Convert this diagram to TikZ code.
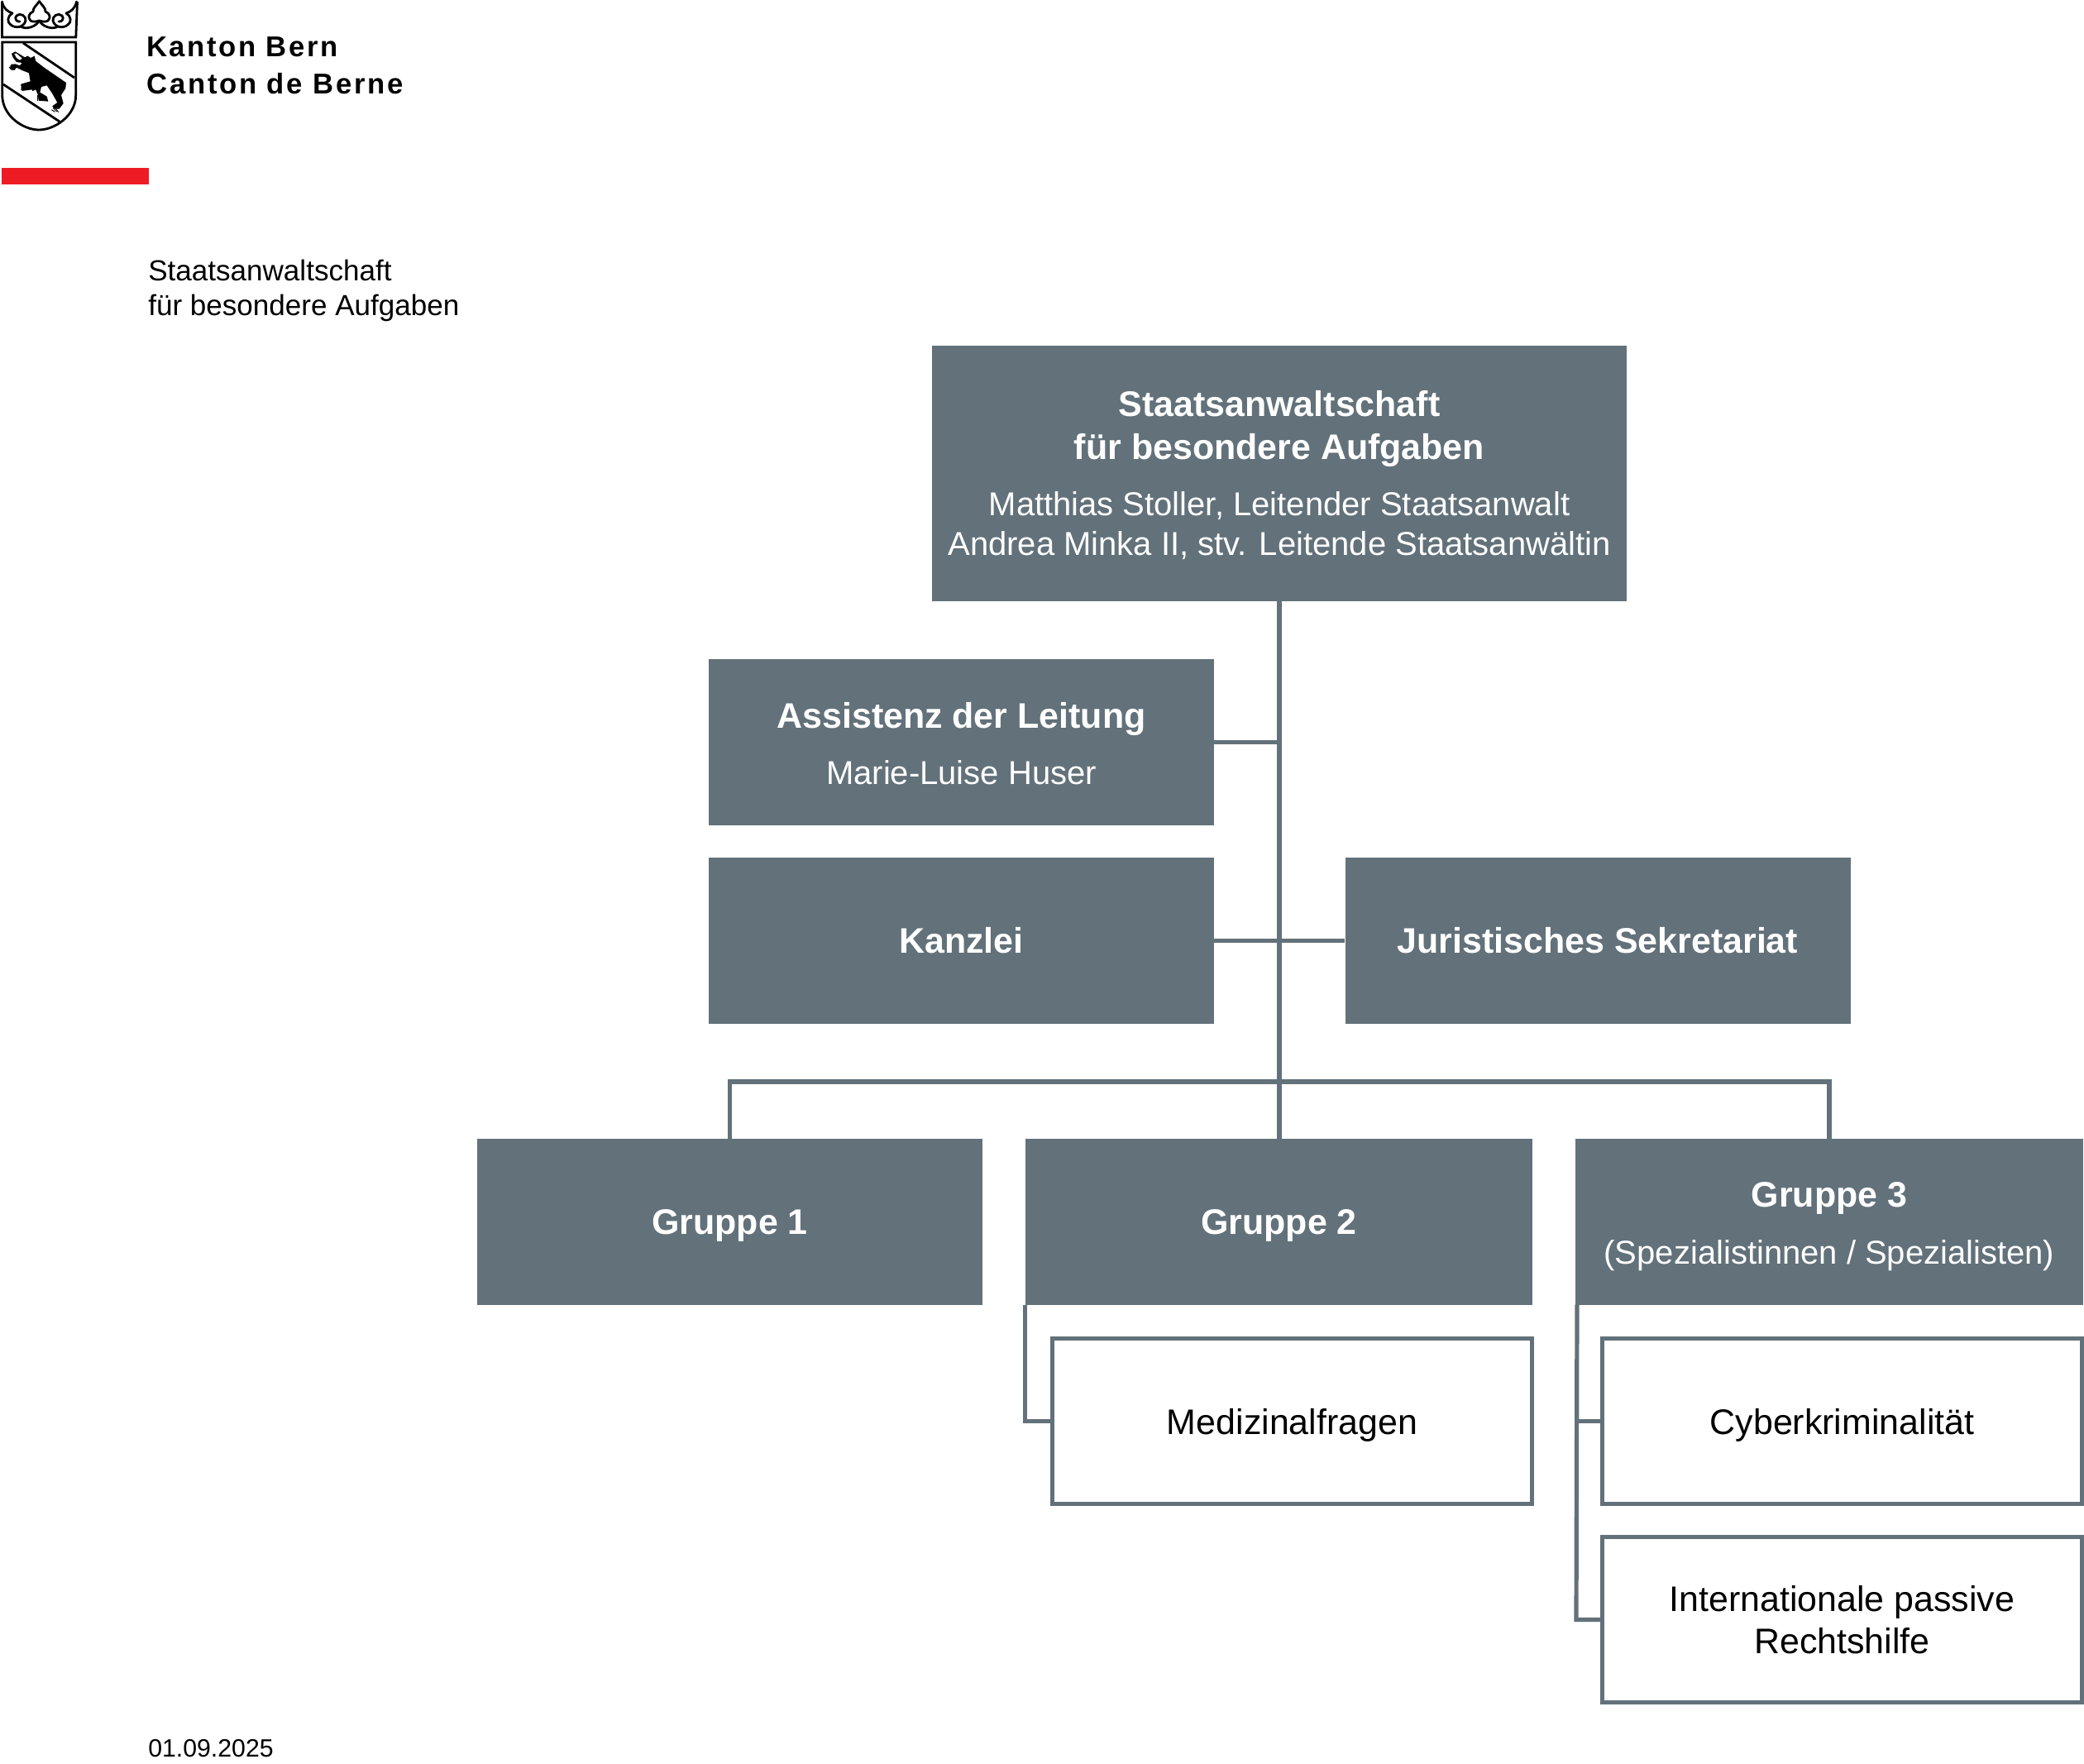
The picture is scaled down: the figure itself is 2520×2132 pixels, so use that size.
\documentclass[tikz,border=0pt]{standalone}
\usepackage{fontspec}
\setmainfont{Liberation Sans}
\definecolor{slate}{HTML}{62717A}
\definecolor{bernred}{HTML}{ED1C24}
\newcommand{\bigtxt}{\fontsize{32.2pt}{39pt}\selectfont}
\newcommand{\headb}[1]{\textbf{#1}}
\newcommand{\regt}[1]{{\fontsize{30pt}{39pt}\selectfont #1}}
\newcommand{\nz}[1]{\raisebox{0pt}[\height][0pt]{#1}}
\newcommand{\nq}[1]{\raisebox{0pt}[\height][1.5pt]{#1}}
\newcommand{\lift}{\rule{0pt}{25.2pt}}
\newcommand{\crownhalf}{
  \draw[crownline] (2.5,2) .. controls (4,10) and (9,14) .. (15,16)
    .. controls (9,19) and (8,27) .. (13,30)
    .. controls (19,35) and (29,33) .. (31,25)
    .. controls (32,19) and (24,15) .. (20,19)
    .. controls (17,22) and (20,27) .. (24,26);
  \draw[crownline] (25,32) .. controls (31,36) and (43,33) .. (47.5,25);
  \draw[crownline] (47.5,1.5) .. controls (44,7) and (40,9) .. (40,14)
    .. controls (35,16) and (33,21) .. (37,25)
    .. controls (40,27) and (44,26) .. (47.5,25);
}
\newcommand{\claws}[4]{\draw[black,line width=0.7pt] (#1,#2) -- ++(#3,#4);}
\tikzset{
  x=0.75pt,y=-0.75pt,
  size/.style 2 args={minimum width={(#1)*0.75pt},minimum height={(#2)*0.75pt}},
  solidbox/.style={rectangle,fill=slate,text=white,inner sep=0pt,align=center,font=\bigtxt},
  openbox/.style={rectangle,draw=slate,line width=3.75pt,fill=white,text=black,inner sep=0pt,align=center,font=\bigtxt},
  conn/.style={draw=slate,line width=3.9pt},
  trunk/.style={draw=slate,line width=4.2pt},
  crownline/.style={line width=2.1pt,line cap=round,line join=round,black},
  shieldline/.style={line width=2.1pt,black},
  plain/.style={inner sep=0pt,anchor=base west,align=left,text=black},
}
\begin{document}
\begin{tikzpicture}
\useasboundingbox (0,0) rectangle (2520,2132);
% logo
\draw[shieldline,line join=miter] (2.5,2) -- (2.5,45) -- (91.8,45) -- (93.5,2);
\crownhalf
\begin{scope}[shift={(95,0)},xscale=-1]\crownhalf\end{scope}
\draw[shieldline] (2.7,51) -- (91.7,51) -- (91.7,115) .. controls (91.7,140) and (66,157) .. (47,157) .. controls (28,157) and (2.7,140) .. (2.7,115) -- cycle;
\draw[shieldline] (28,52) -- (90,94);
\draw[shieldline] (4,102) -- (72,147);
\begin{scope}[scale=0.3333]
\fill[black] (42,195) -- (55,187) -- (90,208) -- (100,203) -- (112,210) -- (125,203) -- (130,222) -- (160,245) -- (240,300) -- (238,320) -- (222,345) -- (230,375) -- (215,395) -- (195,395) -- (190,385) -- (208,372) -- (190,340) -- (170,310) -- (150,315) -- (145,335) -- (170,350) -- (175,368) -- (140,365) -- (138,345) -- (130,325) -- (118,330) -- (115,325) -- (80,330) -- (76,305) -- (110,295) -- (105,265) -- (80,255) -- (60,245) -- (52,255) -- (35,250) -- (40,235) -- (55,232) -- (72,238) -- (80,228) -- (60,225) -- (48,210) -- cycle;
\fill[white] (52,195) -- (60,194) -- (80,212) -- (72,218) -- (60,210) -- cycle;
\claws{33}{243}{12}{12}\claws{38}{238}{12}{12}\claws{43}{233}{12}{12}
\claws{75}{310}{14}{0}\claws{75}{318}{14}{0}\claws{75}{326}{14}{0}
\claws{137}{345}{0}{22}\claws{145}{345}{0}{22}\claws{153}{345}{0}{22}
\claws{187}{398}{12}{8}\claws{194}{393}{12}{12}\claws{202}{393}{10}{14}
\end{scope}
\node[rectangle,fill=bernred,inner sep=0pt,size={178}{20}] (redbar) at (91,213) {};
% header texts
\node[plain,font=\fontsize{26pt}{30pt}\bfseries\selectfont\addfontfeatures{LetterSpace=7.5}] (kb) at (177,68) {Kanton Bern};
\node[plain,font=\fontsize{26pt}{30pt}\bfseries\selectfont\addfontfeatures{LetterSpace=8}] (cb) at (177,113) {Canton de Berne};
\node[plain,font=\fontsize{26.3pt}{31.5pt}\selectfont] (sub1) at (179,339.5) {Staatsanwaltschaft};
\node[plain,font=\fontsize{26.3pt}{31.5pt}\selectfont] (sub2) at (179,381.5) {für besondere Aufgaben};
\node[plain,font=\fontsize{22.7pt}{27pt}\selectfont] (date) at (179,2124) {01.09.2025};
% boxes
\node[solidbox,size={840}{309}] (top) at (1547,572.5) {\headb{Staatsanwaltschaft}\\\headb{für besondere Aufgaben}\\[12pt]\regt{Matthias Stoller, Leitender Staatsanwalt}\\[-3pt]\nq{\regt{Andrea Minka II, stv. Leitende Staatsanwältin}}};
\node[solidbox,size={611}{201}] (assist) at (1162.5,897.5) {\lift\headb{Assistenz der Leitung}\\[12pt]\regt{Marie-Luise Huser}};
\node[solidbox,size={611}{201}] (kanzlei) at (1162.5,1137.5) {\headb{Kanzlei}};
\node[solidbox,size={611}{201}] (jur) at (1932,1137.5) {\headb{Juristisches Sekretariat}};
\node[solidbox,size={611}{201}] (g1) at (882.5,1477.5) {\nz{\headb{Gruppe 1}}};
\node[solidbox,size={613}{201}] (g2) at (1546.5,1477.5) {\nz{\headb{Gruppe 2}}};
\node[solidbox,size={614}{201}] (g3) at (2212,1477.5) {\lift\headb{Gruppe 3}\\[12.5pt]\nz{\regt{(Spezialistinnen / Spezialisten)}}};
\node[openbox,size={580}{200}] (med) at (1562.5,1718.5) {\nz{Medizinalfragen}};
\node[openbox,size={580}{200}] (cyb) at (2227.5,1718.5) {\nz{Cyberkriminalität}};
\node[openbox,size={580}{200}] (ips) at (2227.5,1958.5) {Internationale passive\\[-0.5pt]Rechtshilfe};
% connectors
\coordinate (busl) at (g1.north |- 0,1308);
\coordinate (busr) at (g3.north |- 0,1308);
\coordinate (g2drop) at (1239.5,1577.5);
\coordinate (g3drop) at (1907,1577.5);
\coordinate (medturn) at (1239.5,1718.5);
\coordinate (ipsturn) at (1906,1958.5);
\draw[trunk] (top.south) -- (top.south |- g2.north);
\draw[conn] (assist.east) -- (assist.east -| top.south);
\draw[conn] (kanzlei.east) -- (jur.west);
\draw[conn,line join=miter] (g1.north) -- (busl) -- (busr) -- (g3.north);
\draw[conn,line join=miter] (g2drop) -- (medturn) -- (med.west);
\draw[conn,line join=miter] (g3drop) -- (ipsturn) -- (ips.west);
\draw[conn] (cyb.west) -- (cyb.west -| g3drop);
\end{tikzpicture}
\end{document}
